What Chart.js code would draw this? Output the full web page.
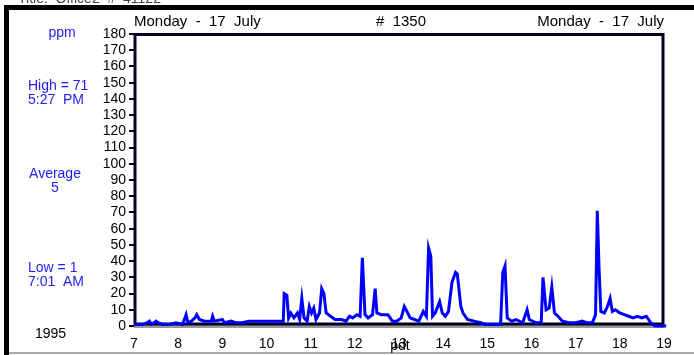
<!DOCTYPE html>
<html>
<head>
<meta charset="utf-8">
<script src="https://cdn.jsdelivr.net/npm/chart.js@4.4.0/dist/chart.umd.min.js"></script>
<style>
  html, body { margin: 0; padding: 0; background: #fff; }
  canvas { display: block; }
</style>
</head>
<body>
<canvas id="myChart" width="694" height="355"></canvas>
<script>
// hour of day (pdt) and ppm readings
var hours = [7.00, 7.10, 7.20, 7.30, 7.35, 7.40, 7.50, 7.55, 7.65, 7.80, 7.95, 8.10, 8.18, 8.22, 8.30, 8.38, 8.42, 8.48,
  8.60, 8.75, 8.78, 8.82, 9.00, 9.05, 9.20, 9.30, 9.45, 9.60, 9.80, 10.00, 10.20, 10.38, 10.40, 10.46, 10.50, 10.55,
  10.62, 10.70, 10.75, 10.80, 10.85, 10.92, 10.97, 11.02, 11.07, 11.12, 11.20, 11.25, 11.30, 11.35, 11.45, 11.55,
  11.70, 11.80, 11.88, 11.95, 12.05, 12.12, 12.17, 12.23, 12.30, 12.40, 12.46, 12.50, 12.60, 12.75, 12.85, 12.95,
  13.05, 13.12, 13.18, 13.25, 13.35, 13.45, 13.55, 13.62, 13.67, 13.72, 13.76, 13.82, 13.92, 13.98, 14.05, 14.12,
  14.20, 14.28, 14.32, 14.36, 14.40, 14.45, 14.55, 14.70, 14.85, 14.95, 15.10, 15.30, 15.35, 15.40, 15.45, 15.55,
  15.65, 15.80, 15.90, 15.95, 16.10, 16.22, 16.26, 16.33, 16.40, 16.46, 16.52, 16.60, 16.70, 16.85, 17.00, 17.15,
  17.25, 17.38, 17.45, 17.49, 17.53, 17.57, 17.65, 17.72, 17.78, 17.83, 17.90, 18.00, 18.10, 18.20, 18.30, 18.40,
  18.50, 18.60, 18.70, 18.80, 19.05];
var ppm = [1, 1, 1, 2, 3, 1, 3, 2, 1, 1, 2, 1, 7, 2, 3, 5, 7, 4,
  3, 3, 6, 3, 4, 2, 3, 2, 2, 3, 3, 3, 3, 3, 20, 19, 5, 8,
  5, 8, 4, 17, 5, 3, 12, 8, 11, 4, 8, 23, 20, 8, 6, 4,
  4, 3, 6, 5, 7, 6, 42, 7, 5, 7, 23, 8, 7, 7, 3, 3,
  5, 12, 9, 5, 4, 3, 9, 6, 48, 43, 6, 8, 15, 8, 6, 9,
  27, 33, 32, 22, 12, 8, 4, 3, 2, 1, 1, 1, 33, 37, 5, 3,
  4, 2, 10, 4, 2, 2, 30, 10, 11, 24, 8, 6, 3, 2, 2, 3,
  2, 2, 7, 71, 35, 9, 8, 12, 17, 9, 10, 8, 7, 6, 5, 6,
  5, 6, 2, 0, 0];

var headLeft = 'Monday  -  17  July';
var headMid = '#  1350';
var headRight = 'Monday  -  17  July';
var notes = [
  { lines: ['ppm'], x: 62, y: 33, align: 'center' },
  { lines: ['High = 71', '5:27  PM'], x: 28, y: 86, align: 'left' },
  { lines: ['Average', '5'], x: 55, y: 174, align: 'center' },
  { lines: ['Low = 1', '7:01  AM'], x: 28, y: 268, align: 'left' }
];
var yearLabel = '1995';
var unitLabel = 'pdt';

var FONT = "'Liberation Sans', Arial, sans-serif";

var decor = {
  id: 'decor',
  beforeDraw: function(c) {
    var ctx = c.ctx;
    ctx.save();
    ctx.fillStyle = '#fff';
    ctx.fillRect(0, 0, c.width, c.height);
    // cut-off title line
    ctx.fillStyle = '#444';
    ctx.font = '14px ' + FONT;
    ctx.textBaseline = 'alphabetic';
    ctx.fillText('Title:  Office2  #  41122', 18, 3);
    // outer frame
    ctx.fillStyle = '#000';
    ctx.fillRect(4, 5, c.width - 4, 5);
    ctx.fillRect(4, 5, 5, c.height - 5);
    ctx.fillStyle = '#aaa';
    ctx.fillRect(9, 352, c.width - 9, 2);
    ctx.restore();
  },
  beforeDatasetsDraw: function(c) {
    var ctx = c.ctx, a = c.chartArea;
    ctx.save();
    ctx.fillStyle = '#999';
    ctx.fillRect(a.left, a.bottom - 1, a.right - a.left, 3);
    ctx.strokeStyle = '#000022';
    ctx.lineWidth = 3;
    ctx.strokeRect(a.left + 1, a.top + 0.5, a.right - a.left - 2, a.bottom - a.top - 2.5);
    ctx.restore();
  },
  afterDraw: function(c) {
    var ctx = c.ctx;
    ctx.save();
    ctx.textBaseline = 'middle';
    ctx.font = '15px ' + FONT;
    ctx.fillStyle = '#000';
    ctx.textAlign = 'left';
    ctx.fillText(headLeft, 134, 22);
    ctx.fillText(headMid, 376, 22);
    ctx.textAlign = 'right';
    ctx.fillText(headRight, 664, 22);
    ctx.font = '14px ' + FONT;
    ctx.fillStyle = '#1c1cf0';
    notes.forEach(function(n) {
      ctx.textAlign = n.align;
      n.lines.forEach(function(t, i) {
        ctx.fillText(t, n.x, n.y + i * 14);
      });
    });
    ctx.fillStyle = '#000';
    ctx.textAlign = 'left';
    ctx.fillText(yearLabel, 35, 334);
    ctx.textAlign = 'center';
    ctx.fillText(unitLabel, 400, 346);
    ctx.restore();
  }
};

var points = hours.map(function(h, i) { return { x: h, y: ppm[i] }; });

var ctx = document.getElementById('myChart').getContext('2d');
var chart = new Chart(ctx, {
  type: 'line',
  data: {
    datasets: [{
      data: points,
      borderColor: '#0000ff',
      borderWidth: 3,
      pointRadius: 0,
      tension: 0,
      fill: false,
      clip: 6
    }]
  },
  options: {
    responsive: false,
    animation: false,
    layout: { padding: { top: 34, right: 30, left: 0, bottom: 0 } },
    plugins: { legend: { display: false }, tooltip: { enabled: false } },
    scales: {
      x: {
        type: 'linear',
        min: 7,
        max: 19,
        afterFit: function(s) { s.height = 29; },
        grid: { display: false },
        border: { display: false },
        ticks: {
          stepSize: 1,
          padding: 2,
          autoSkip: false,
          color: '#000',
          font: { family: FONT, size: 14 },
          maxRotation: 0,
          callback: function(v) { return String(v); }
        }
      },
      y: {
        min: 0,
        max: 180,
        afterFit: function(s) { s.width = 134; },
        grid: { drawOnChartArea: false, drawTicks: true, tickLength: 5, color: '#000', lineWidth: 2 },
        border: { display: false },
        ticks: {
          stepSize: 10,
          padding: 3,
          autoSkip: false,
          color: '#000',
          font: { family: FONT, size: 14, lineHeight: 1 }
        }
      }
    }
  },
  plugins: [decor]
});
</script>
</body>
</html>
